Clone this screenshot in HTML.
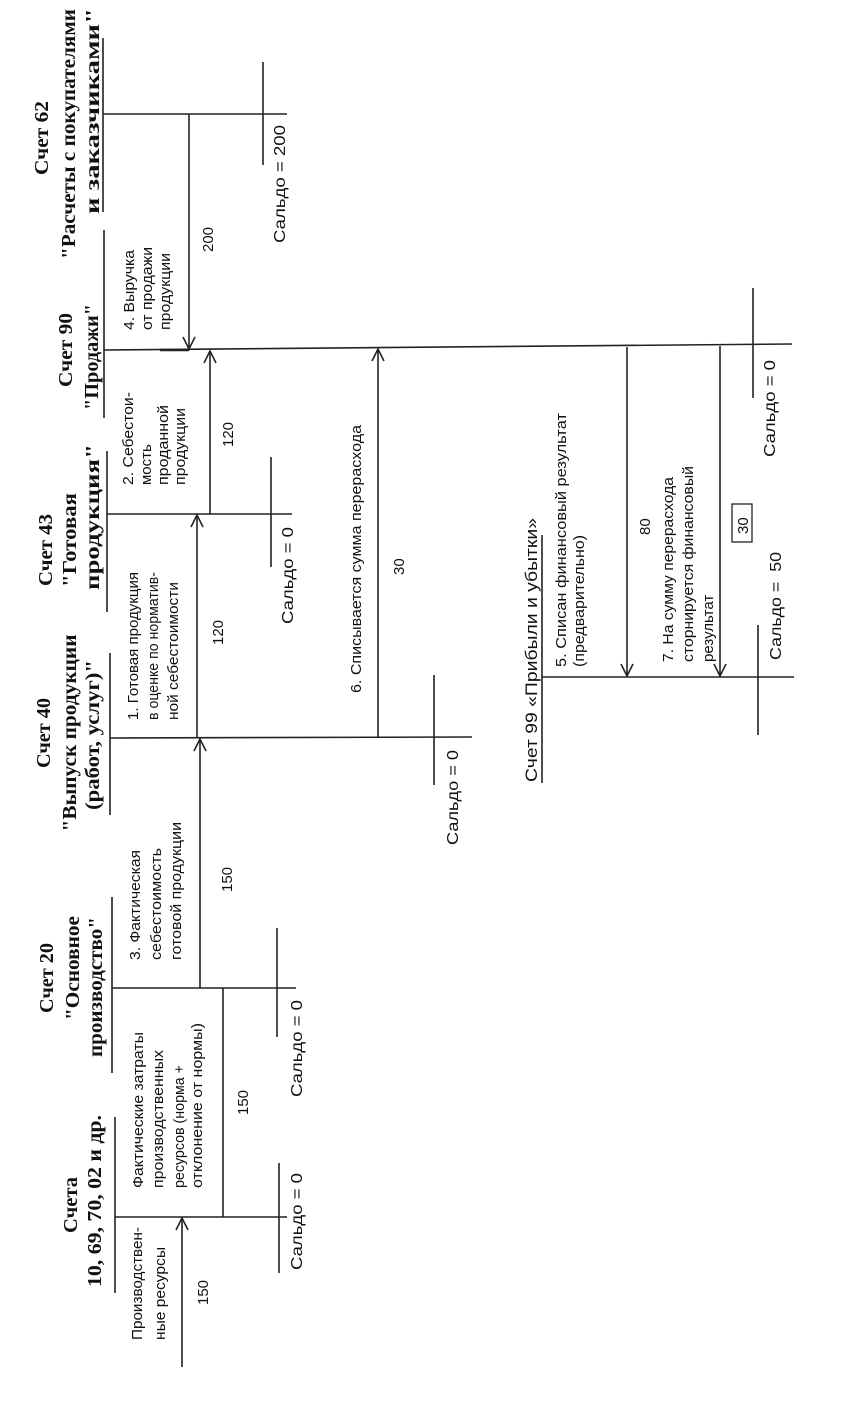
<!DOCTYPE html>
<html><head><meta charset="utf-8"><style>
html,body{margin:0;padding:0;background:#fff;}
svg{display:block;}
.t{font-family:"Liberation Serif","Noto Serif CJK SC",serif;font-weight:bold;font-size:20px;fill:#111;}
.b{font-family:"Liberation Sans","Noto Sans CJK SC",sans-serif;font-size:15px;fill:#111;}
.s{font-family:"Liberation Sans","Noto Sans CJK SC",sans-serif;font-size:16px;fill:#111;}
line,polyline{stroke:#222;stroke-width:1.6;fill:none;}
</style></head><body>
<svg width="842" height="1412" viewBox="0 0 842 1412" xmlns="http://www.w3.org/2000/svg">
<!-- Account 10 -->
<line x1="115" y1="1117" x2="115" y2="1293"/>
<line x1="115" y1="1217" x2="287" y2="1217"/>
<line x1="279" y1="1163" x2="279" y2="1273"/>
<line x1="182" y1="1367" x2="182" y2="1218"/>
<polyline points="176,1230 182,1218 188,1230"/>
<line x1="223" y1="1217" x2="223" y2="988"/>
<!-- Account 20 -->
<line x1="112" y1="897" x2="112" y2="1073"/>
<line x1="112" y1="988" x2="296" y2="988"/>
<line x1="277" y1="928" x2="277" y2="1037"/>
<line x1="200" y1="988" x2="200" y2="739"/>
<polyline points="194,751 200,739 206,751"/>
<!-- Account 40 -->
<line x1="110" y1="653" x2="110" y2="815"/>
<line x1="110" y1="738" x2="472" y2="737"/>
<line x1="434" y1="675" x2="434" y2="785"/>
<line x1="197" y1="738" x2="197" y2="515"/>
<polyline points="191,527 197,515 203,527"/>
<line x1="378" y1="737" x2="378" y2="349"/>
<polyline points="372,361 378,349 384,361"/>
<!-- Account 43 -->
<line x1="107" y1="451" x2="107" y2="612"/>
<line x1="107" y1="514" x2="292" y2="514"/>
<line x1="271" y1="457" x2="271" y2="567"/>
<line x1="210" y1="514" x2="210" y2="351"/>
<polyline points="204,363 210,351 216,363"/>
<!-- Account 90 -->
<line x1="104" y1="230" x2="104" y2="418"/>
<line x1="104" y1="350" x2="792" y2="344"/>
<line x1="160" y1="350" x2="189" y2="350" style="stroke-width:2.4"/>
<line x1="753" y1="288" x2="753" y2="398"/>
<!-- Account 62 -->
<line x1="103" y1="38" x2="103" y2="212"/>
<line x1="103" y1="114" x2="287" y2="114"/>
<line x1="263" y1="62" x2="263" y2="165"/>
<line x1="189" y1="114" x2="189" y2="349"/>
<polyline points="183,337 189,349 195,337"/>
<!-- Account 99 -->
<line x1="542" y1="535" x2="542" y2="783"/>
<line x1="542" y1="677" x2="794" y2="677"/>
<line x1="758" y1="625" x2="758" y2="735"/>
<line x1="627" y1="347" x2="627" y2="676"/>
<polyline points="621,664 627,676 633,664"/>
<line x1="720" y1="346" x2="720" y2="676"/>
<polyline points="714,664 720,676 726,664"/>
<rect x="732" y="504" width="20" height="38" fill="none" stroke="#222" stroke-width="1.3"/>

<!-- Titles -->
<g class="t" text-anchor="middle">
<text transform="translate(77,1205) rotate(-90)" textLength="56" lengthAdjust="spacingAndGlyphs">Счета</text>
<text transform="translate(101,1201) rotate(-90)" textLength="172" lengthAdjust="spacingAndGlyphs">10, 69, 70, 02 и др.</text>
<text transform="translate(53,978) rotate(-90)" textLength="70" lengthAdjust="spacingAndGlyphs">Счет 20</text>
<text transform="translate(79,968) rotate(-90)" textLength="104" lengthAdjust="spacingAndGlyphs">"Основное</text>
<text transform="translate(102,987) rotate(-90)" textLength="140" lengthAdjust="spacingAndGlyphs">производство"</text>
<text transform="translate(50,733) rotate(-90)" textLength="70" lengthAdjust="spacingAndGlyphs">Счет 40</text>
<text transform="translate(76,733) rotate(-90)" textLength="197" lengthAdjust="spacingAndGlyphs">"Выпуск продукции</text>
<text transform="translate(99,735) rotate(-90)" textLength="150" lengthAdjust="spacingAndGlyphs">(работ, услуг)"</text>
<text transform="translate(52,550) rotate(-90)" textLength="72" lengthAdjust="spacingAndGlyphs">Счет 43</text>
<text transform="translate(76,540) rotate(-90)" textLength="94" lengthAdjust="spacingAndGlyphs">"Готовая</text>
<text transform="translate(99,517) rotate(-90)" textLength="146" lengthAdjust="spacingAndGlyphs">продукция"</text>
<text transform="translate(72,350) rotate(-90)" textLength="74" lengthAdjust="spacingAndGlyphs">Счет 90</text>
<text transform="translate(98,357) rotate(-90)" textLength="106" lengthAdjust="spacingAndGlyphs">"Продажи"</text>
<text transform="translate(48,138) rotate(-90)" textLength="74" lengthAdjust="spacingAndGlyphs">Счет 62</text>
<text transform="translate(75,134) rotate(-90)" textLength="250" lengthAdjust="spacingAndGlyphs">"Расчеты с покупателями</text>
<text transform="translate(99,111) rotate(-90)" textLength="206" lengthAdjust="spacingAndGlyphs">и заказчиками"</text>
</g>
<text class="s" style="font-size:17px" transform="translate(537,782) rotate(-90)" textLength="264" lengthAdjust="spacingAndGlyphs">Счет 99 «Прибыли и убытки»</text>

<!-- Body texts -->
<g class="b">
<text transform="translate(142,1340) rotate(-90)" textLength="113" lengthAdjust="spacingAndGlyphs">Производствен-</text>
<text transform="translate(165,1340) rotate(-90)" textLength="93" lengthAdjust="spacingAndGlyphs">ные ресурсы</text>
<text transform="translate(208,1305) rotate(-90)">150</text>

<text transform="translate(143,1188) rotate(-90)" textLength="156" lengthAdjust="spacingAndGlyphs">Фактические затраты</text>
<text transform="translate(163,1188) rotate(-90)" textLength="138" lengthAdjust="spacingAndGlyphs">производственных</text>
<text transform="translate(184,1188) rotate(-90)" textLength="123" lengthAdjust="spacingAndGlyphs">ресурсов (норма +</text>
<text transform="translate(202,1188) rotate(-90)" textLength="165" lengthAdjust="spacingAndGlyphs">отклонение от нормы)</text>
<text transform="translate(248,1115) rotate(-90)">150</text>

<text transform="translate(140,960) rotate(-90)" textLength="110" lengthAdjust="spacingAndGlyphs">3. Фактическая</text>
<text transform="translate(161,960) rotate(-90)" textLength="112" lengthAdjust="spacingAndGlyphs">себестоимость</text>
<text transform="translate(181,960) rotate(-90)" textLength="138" lengthAdjust="spacingAndGlyphs">готовой продукции</text>
<text transform="translate(232,892) rotate(-90)">150</text>

<text transform="translate(138,720) rotate(-90)" textLength="148" lengthAdjust="spacingAndGlyphs">1. Готовая продукция</text>
<text transform="translate(158,720) rotate(-90)" textLength="148" lengthAdjust="spacingAndGlyphs">в оценке по норматив-</text>
<text transform="translate(178,720) rotate(-90)" textLength="138" lengthAdjust="spacingAndGlyphs">ной себестоимости</text>
<text transform="translate(223,645) rotate(-90)">120</text>

<text transform="translate(361,693) rotate(-90)" textLength="268" lengthAdjust="spacingAndGlyphs">6. Списывается сумма перерасхода</text>
<text transform="translate(404,575) rotate(-90)">30</text>

<text transform="translate(133,485) rotate(-90)" textLength="93" lengthAdjust="spacingAndGlyphs">2. Себестои-</text>
<text transform="translate(151,485) rotate(-90)">мость</text>
<text transform="translate(168,485) rotate(-90)" textLength="80" lengthAdjust="spacingAndGlyphs">проданной</text>
<text transform="translate(185,485) rotate(-90)" textLength="77" lengthAdjust="spacingAndGlyphs">продукции</text>
<text transform="translate(233,447) rotate(-90)">120</text>

<text transform="translate(134,330) rotate(-90)" textLength="80" lengthAdjust="spacingAndGlyphs">4. Выручка</text>
<text transform="translate(152,330) rotate(-90)" textLength="83" lengthAdjust="spacingAndGlyphs">от продажи</text>
<text transform="translate(170,330) rotate(-90)" textLength="77" lengthAdjust="spacingAndGlyphs">продукции</text>
<text transform="translate(213,252) rotate(-90)">200</text>

<text transform="translate(566,667) rotate(-90)" textLength="254" lengthAdjust="spacingAndGlyphs">5. Списан финансовый результат</text>
<text transform="translate(584,667) rotate(-90)" textLength="132" lengthAdjust="spacingAndGlyphs">(предварительно)</text>
<text transform="translate(650,535) rotate(-90)">80</text>

<text transform="translate(673,662) rotate(-90)" textLength="185" lengthAdjust="spacingAndGlyphs">7. На сумму перерасхода</text>
<text transform="translate(693,662) rotate(-90)" textLength="196" lengthAdjust="spacingAndGlyphs">сторнируется финансовый</text>
<text transform="translate(713,662) rotate(-90)">результат</text>
<text transform="translate(748,534) rotate(-90)">30</text>
</g>

<!-- Saldo -->
<g class="s">
<text transform="translate(302,1270) rotate(-90)" textLength="97" lengthAdjust="spacingAndGlyphs">Сальдо = 0</text>
<text transform="translate(302,1097) rotate(-90)" textLength="97" lengthAdjust="spacingAndGlyphs">Сальдо = 0</text>
<text transform="translate(458,845) rotate(-90)" textLength="95" lengthAdjust="spacingAndGlyphs">Сальдо = 0</text>
<text transform="translate(293,624) rotate(-90)" textLength="97" lengthAdjust="spacingAndGlyphs">Сальдо = 0</text>
<text transform="translate(285,243) rotate(-90)" textLength="118" lengthAdjust="spacingAndGlyphs">Сальдо = 200</text>
<text transform="translate(775,457) rotate(-90)" textLength="97" lengthAdjust="spacingAndGlyphs">Сальдо = 0</text>
<text transform="translate(781,660) rotate(-90)" textLength="108" lengthAdjust="spacingAndGlyphs" xml:space="preserve">Сальдо =  50</text>
</g>
</svg>
</body></html>
